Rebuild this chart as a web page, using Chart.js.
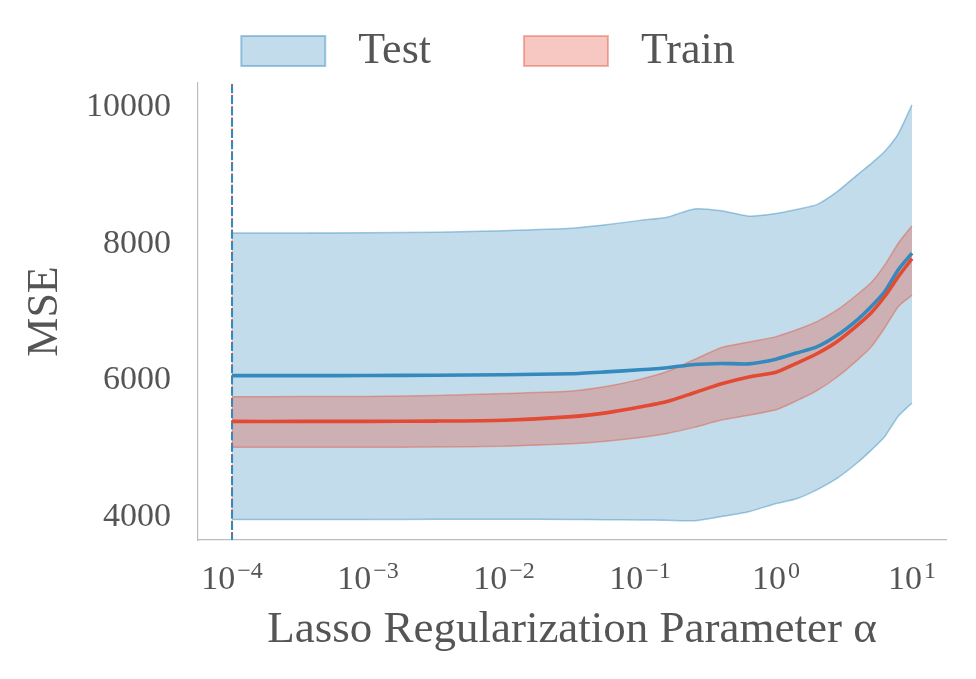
<!DOCTYPE html>
<html><head><meta charset="utf-8">
<script src="https://cdn.jsdelivr.net/npm/chart.js@4.4.1/dist/chart.umd.min.js"></script>
<style>html,body{margin:0;padding:0;background:#fff;overflow:hidden}#wrap{width:976px;height:679px;position:relative}</style>
</head><body><div id="wrap"><canvas id="c"></canvas></div>
<script>
// alpha values (log-spaced samples)
const alphas = [0.0001, 0.000316, 0.001, 0.00316, 0.01, 0.0316, 0.0562, 0.1, 0.158, 0.251, 0.398, 0.631, 1, 1.413, 1.995, 2.818, 3.981, 5.012, 6.31, 7.943, 10];
const testUpper = [8155, 8156, 8158, 8168, 8190, 8225, 8275, 8340, 8387, 8508, 8480, 8402, 8440, 8500, 8570, 8760, 9010, 9170, 9350, 9610, 10030];
const testLower = [3966, 3966, 3967, 3968, 3970, 3966, 3962, 3960, 3956, 3948, 4010, 4080, 4200, 4270, 4400, 4570, 4800, 4980, 5180, 5480, 5670];
const testMean  = [6070, 6070, 6071, 6075, 6083, 6098, 6125, 6155, 6185, 6233, 6248, 6242, 6310, 6400, 6490, 6660, 6890, 7080, 7300, 7620, 7860];
const trainUpper= [5762, 5763, 5766, 5778, 5808, 5845, 5910, 6015, 6130, 6305, 6480, 6560, 6640, 6740, 6860, 7030, 7260, 7430, 7690, 8010, 8260];
const trainMean = [5400, 5400, 5401, 5405, 5418, 5470, 5525, 5610, 5690, 5820, 5950, 6050, 6120, 6250, 6390, 6570, 6810, 6990, 7230, 7520, 7780];
const trainLower= [5021, 5021, 5022, 5026, 5036, 5075, 5110, 5165, 5225, 5313, 5420, 5490, 5570, 5700, 5850, 6050, 6300, 6490, 6770, 7080, 7245];
const bestAlpha = 0.0001;
const xTickValues = [0.0001, 0.001, 0.01, 0.1, 1, 10];
const xTickExponents = ['\u22124', '\u22123', '\u22122', '\u22121', '0', '1'];
const yTickValues = [4000, 6000, 8000, 10000];
const seriesNames = ['Test', 'Train'];

const BLUE = '#348ABD', RED = '#E24A33';
const BLUE_FILL = 'rgba(52,138,189,0.3)', RED_FILL = 'rgba(226,74,51,0.3)';
const BLUE_EDGE = 'rgba(52,138,189,0.45)', RED_EDGE = 'rgba(226,74,51,0.4)';
const FONT = '"Liberation Serif", "DejaVu Serif", serif';
const TXT = '#555555';
const YMIN = 3666, YMAX = 10349;

const pts = arr => arr.map((v, i) => ({x: alphas[i], y: v}));

const xTickPlugin = {
  id: 'xTickLabels',
  afterDraw(chart) {
    const xs = chart.scales.x, ctx = chart.ctx;
    ctx.save();
    ctx.fillStyle = TXT;
    ctx.textBaseline = 'alphabetic';
    ctx.textAlign = 'left';
    xTickValues.forEach((v, i) => {
      const px = xs.getPixelForValue(v);
      ctx.font = '34px ' + FONT;
      const wb = ctx.measureText('10').width;
      ctx.font = '24px ' + FONT;
      const we = ctx.measureText(xTickExponents[i]).width;
      const gap = 2;
      const x0 = px - (wb + gap + we) / 2;
      ctx.font = '34px ' + FONT;
      ctx.fillText('10', x0, 589);
      ctx.font = '24px ' + FONT;
      ctx.fillText(xTickExponents[i], x0 + wb + gap, 578);
    });
    ctx.restore();
  }
};

const lineDefaults = {pointRadius: 0, pointHoverRadius: 0, tension: 0.2};

new Chart(document.getElementById('c'), {
  type: 'line',
  data: {
    datasets: [
      Object.assign({label: 'Test band upper', data: pts(testUpper), borderColor: BLUE_EDGE, borderWidth: 1.5, backgroundColor: BLUE_FILL, fill: '+1', order: 8}, lineDefaults),
      Object.assign({label: 'Test band lower', data: pts(testLower), borderColor: BLUE_EDGE, borderWidth: 1.5, fill: false, order: 7}, lineDefaults),
      Object.assign({label: 'Train band upper', data: pts(trainUpper), borderColor: RED_EDGE, borderWidth: 1.5, backgroundColor: RED_FILL, fill: '+1', order: 6}, lineDefaults),
      Object.assign({label: 'Train band lower', data: pts(trainLower), borderColor: RED_EDGE, borderWidth: 1.5, fill: false, order: 5}, lineDefaults),
      Object.assign({label: 'Train best', data: [{x: bestAlpha, y: YMIN}, {x: bestAlpha, y: YMAX}], borderColor: RED, borderWidth: 2, borderDash: [8, 3.2], borderDashOffset: 0, fill: false, order: 4}, lineDefaults),
      Object.assign({label: 'Test best', data: [{x: bestAlpha, y: YMIN}, {x: bestAlpha, y: YMAX}], borderColor: BLUE, borderWidth: 2, borderDash: [8, 3.2], borderDashOffset: 1.2, fill: false, order: 3}, lineDefaults),
      Object.assign({label: 'Test mean', data: pts(testMean), borderColor: BLUE, borderWidth: 3.6, fill: false, order: 2}, lineDefaults),
      Object.assign({label: 'Train mean', data: pts(trainMean), borderColor: RED, borderWidth: 3.6, fill: false, order: 1}, lineDefaults)
    ]
  },
  options: {
    responsive: true,
    maintainAspectRatio: false,
    animation: false,
    events: [],
    layout: {padding: {top: 24, right: 30, bottom: 0, left: 30}},
    plugins: {
      tooltip: {enabled: false},
      legend: {
        position: 'top',
        align: 'center',
        labels: {
          boxWidth: 84,
          boxHeight: 30,
          padding: 5,
          color: TXT,
          font: {family: FONT, size: 44},
          generateLabels: () => [
            {text: ' ' + seriesNames[0] + '        ', fillStyle: BLUE_FILL, strokeStyle: BLUE_EDGE, lineWidth: 2, datasetIndex: 0, fontColor: TXT},
            {text: ' ' + seriesNames[1], fillStyle: RED_FILL, strokeStyle: RED_EDGE, lineWidth: 2, datasetIndex: 2, fontColor: TXT}
          ]
        }
      }
    },
    scales: {
      x: {
        type: 'logarithmic',
        min: 5.62e-5,
        max: 17.78,
        grid: {display: false, drawTicks: false},
        border: {display: true, color: '#bcbcbc', width: 1.2},
        ticks: {display: false},
        afterBuildTicks: s => { s.ticks = xTickValues.map(v => ({value: v})); },
        afterFit: s => { s.height = 139; },
        title: {display: true, text: 'Lasso Regularization Parameter \u03b1', color: TXT, font: {family: FONT, size: 45}, padding: {top: 0, bottom: 22}}
      },
      y: {
        type: 'linear',
        min: YMIN,
        max: YMAX,
        grid: {display: false, drawTicks: false},
        border: {display: true, color: '#bcbcbc', width: 1.2},
        ticks: {color: TXT, font: {family: FONT, size: 34}, padding: 27, callback: v => String(v)},
        afterBuildTicks: s => { s.ticks = yTickValues.map(v => ({value: v})); },
        afterFit: s => { s.width = 168; },
        title: {display: true, text: 'MSE', color: TXT, font: {family: FONT, size: 44, lineHeight: 0.68}, padding: {top: 0, bottom: 0}}
      }
    }
  },
  plugins: [xTickPlugin]
});
</script>
</body></html>
